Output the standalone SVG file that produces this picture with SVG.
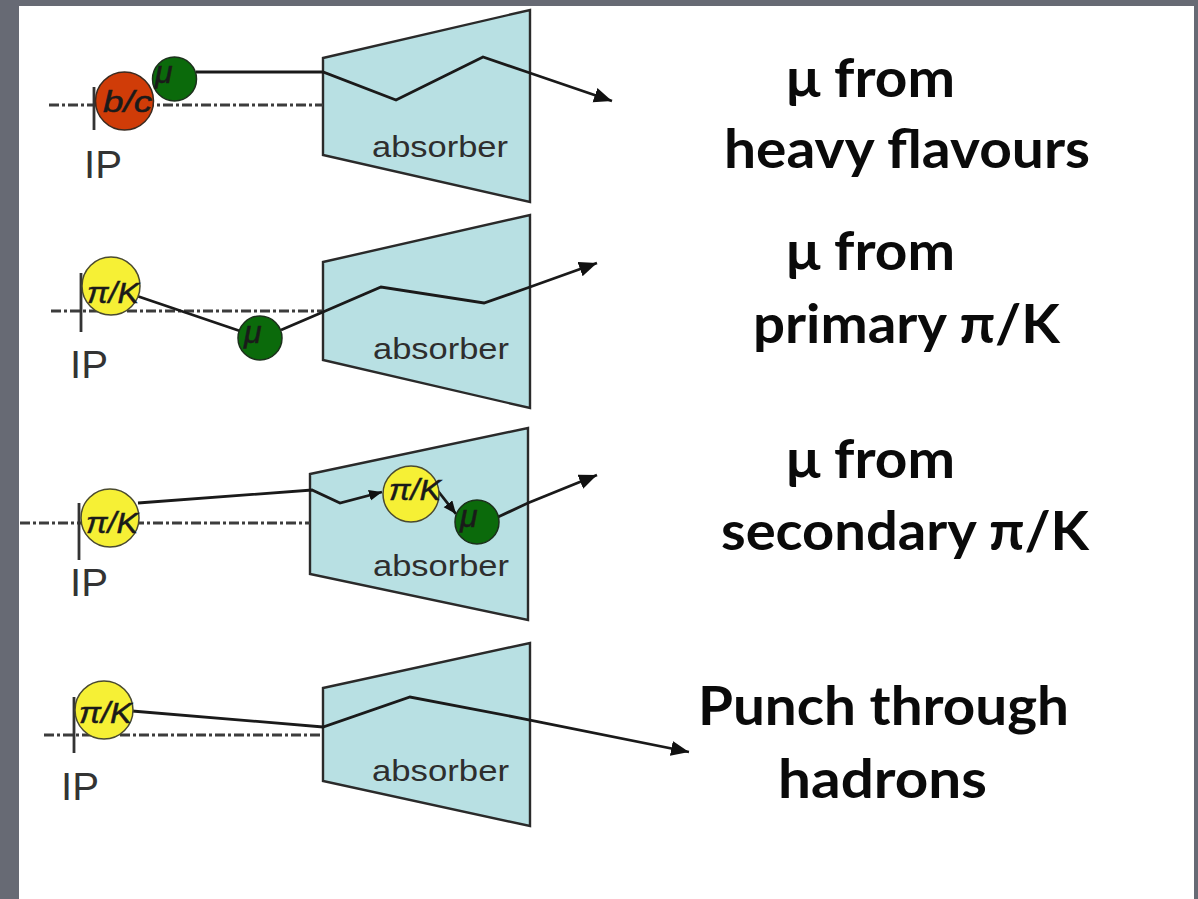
<svg xmlns="http://www.w3.org/2000/svg" width="1198" height="899" viewBox="0 0 1198 899">
<defs>
<marker id="ah" markerUnits="userSpaceOnUse" markerWidth="20" markerHeight="16" refX="18" refY="7.5" orient="auto">
<path d="M0,0 L18,7.5 L0,15 Z" fill="#111"/>
</marker>
<marker id="ahs" markerUnits="userSpaceOnUse" markerWidth="14" markerHeight="12" refX="13" refY="5.5" orient="auto">
<path d="M0,0 L13,5.5 L0,11 Z" fill="#111"/>
</marker>
</defs>
<style>
.abs{fill:#b8e0e3;stroke:#2a2a2a;stroke-width:2.4}
.beam{stroke:#3c3c3c;stroke-width:3;stroke-dasharray:10 3 3 3;fill:none}
.tick{stroke:#333;stroke-width:2.8}
.trk{fill:none;stroke:#1a1a1a;stroke-width:2.8;stroke-linejoin:miter}
.red{fill:#d03c08;stroke:#3a2a20;stroke-width:1.5}
.grn{fill:#0b6a0b;stroke:#1c301c;stroke-width:1.5}
.yel{fill:#f6f035;stroke:#4a4a30;stroke-width:1.5}
.ctx{font-family:"Liberation Sans",Arial,sans-serif;font-style:italic;fill:#1a1a1a;stroke:#1a1a1a;stroke-width:0.5}
.lbl{font-family:"Liberation Sans",Arial,sans-serif;font-size:30px;fill:#2e2e2e}
.ip{font-family:"Liberation Sans",Arial,sans-serif;font-size:38px;fill:#333}
.big{font-family:Lato,"Open Sans",sans-serif;font-weight:bold;font-size:54px;fill:#0a0a0a}
</style>
<rect x="0" y="0" width="1198" height="899" fill="#676a74"/>
<rect x="19" y="6" width="1175" height="893" fill="#ffffff"/>

<g id="absorbers">
<polygon id="absorber1" class="abs" points="323,58 530,10 530,202 323,155"/>
<polygon id="absorber2" class="abs" points="323,262 530,215 530,408 323,360"/>
<polygon id="absorber3" class="abs" points="310,474 528,428 528,620 310,574"/>
<polygon id="absorber4" class="abs" points="323,688 530,643 530,826 323,781"/>
</g>

<g id="beamlines">
<line class="beam" x1="49" y1="105" x2="323" y2="105"/>
<line class="beam" x1="51" y1="311" x2="323" y2="311"/>
<line class="beam" x1="20" y1="523" x2="310" y2="523"/>
<line class="beam" x1="44" y1="735" x2="323" y2="735"/>
<line class="tick" x1="94" y1="87" x2="94" y2="130"/>
<line class="tick" x1="81" y1="273" x2="81" y2="332"/>
<line class="tick" x1="79" y1="503" x2="79" y2="560"/>
<line class="tick" x1="74" y1="697" x2="74" y2="753"/>
</g>

<g id="connectors">
<polyline class="trk" points="196,72 323,72 396,100 483,57 530,73 612,101" marker-end="url(#ah)"/>
<line class="trk" x1="137" y1="296" x2="240" y2="331"/>
<polyline class="trk" points="281,330 323,312 381,287 484,303 530,287 597,263" marker-end="url(#ah)"/>
<polyline class="trk" points="138,503 312,490 340,503 382,492" marker-end="url(#ahs)"/>
<line class="trk" x1="438" y1="491" x2="456" y2="514" marker-end="url(#ahs)"/>
<polyline class="trk" points="498,517 528,503 597,475" marker-end="url(#ah)"/>
<polyline class="trk" points="132,711 323,727 410,697 530,720 689,752" marker-end="url(#ah)"/>
</g>

<g id="panel1">
<circle id="bc1" class="red" cx="124.5" cy="101" r="29"/>
<text class="ctx" x="103" y="112" font-size="30" textLength="49" lengthAdjust="spacingAndGlyphs">b/c</text>
<circle id="mu1" class="grn" cx="174.5" cy="79" r="22"/>
<text class="ctx" x="155" y="83" font-size="32">μ</text>
<text class="lbl" x="372" y="157" textLength="136" lengthAdjust="spacingAndGlyphs">absorber</text>
<text class="ip" x="84" y="178" textLength="38" lengthAdjust="spacingAndGlyphs">IP</text>
</g>

<g id="panel2">
<circle id="pk2" class="yel" cx="111" cy="286" r="29"/>
<text class="ctx" x="87" y="303" font-size="30" textLength="52" lengthAdjust="spacingAndGlyphs">π/K</text>
<circle id="mu2" class="grn" cx="260" cy="338" r="22"/>
<text class="ctx" x="244" y="343" font-size="32">μ</text>
<text class="lbl" x="373" y="359" textLength="136" lengthAdjust="spacingAndGlyphs">absorber</text>
<text class="ip" x="70" y="378" textLength="38" lengthAdjust="spacingAndGlyphs">IP</text>
</g>

<g id="panel3">
<circle id="pk3a" class="yel" cx="110" cy="518" r="29"/>
<text class="ctx" x="86" y="533" font-size="30" textLength="52" lengthAdjust="spacingAndGlyphs">π/K</text>
<circle id="pk3b" class="yel" cx="411" cy="494" r="28"/>
<text class="ctx" x="389" y="500" font-size="30" textLength="52" lengthAdjust="spacingAndGlyphs">π/K</text>
<circle id="mu3" class="grn" cx="477" cy="522" r="22"/>
<text class="ctx" x="460" y="527" font-size="32">μ</text>
<text class="lbl" x="373" y="576" textLength="136" lengthAdjust="spacingAndGlyphs">absorber</text>
<text class="ip" x="70" y="596" textLength="38" lengthAdjust="spacingAndGlyphs">IP</text>
</g>

<g id="panel4">
<circle id="pk4" class="yel" cx="104" cy="710" r="29"/>
<text class="ctx" x="79" y="723" font-size="29" textLength="53" lengthAdjust="spacingAndGlyphs">π/K</text>
<text class="lbl" x="372" y="781" textLength="137" lengthAdjust="spacingAndGlyphs">absorber</text>
<text class="ip" x="61" y="800" textLength="38" lengthAdjust="spacingAndGlyphs">IP</text>
</g>

<g id="labels">
<text class="big" x="786" y="97" textLength="169" lengthAdjust="spacingAndGlyphs">μ from</text>
<text class="big" x="724" y="168" textLength="366" lengthAdjust="spacingAndGlyphs">heavy flavours</text>
<text class="big" x="786" y="270" textLength="169" lengthAdjust="spacingAndGlyphs">μ from</text>
<text class="big" x="753" y="343" textLength="307" lengthAdjust="spacingAndGlyphs">primary π/K</text>
<text class="big" x="786" y="478" textLength="169" lengthAdjust="spacingAndGlyphs">μ from</text>
<text class="big" x="721" y="550" textLength="368" lengthAdjust="spacingAndGlyphs">secondary π/K</text>
<text class="big" x="698" y="725" textLength="371" lengthAdjust="spacingAndGlyphs">Punch through</text>
<text class="big" x="778" y="798" textLength="209" lengthAdjust="spacingAndGlyphs">hadrons</text>
</g>
</svg>
